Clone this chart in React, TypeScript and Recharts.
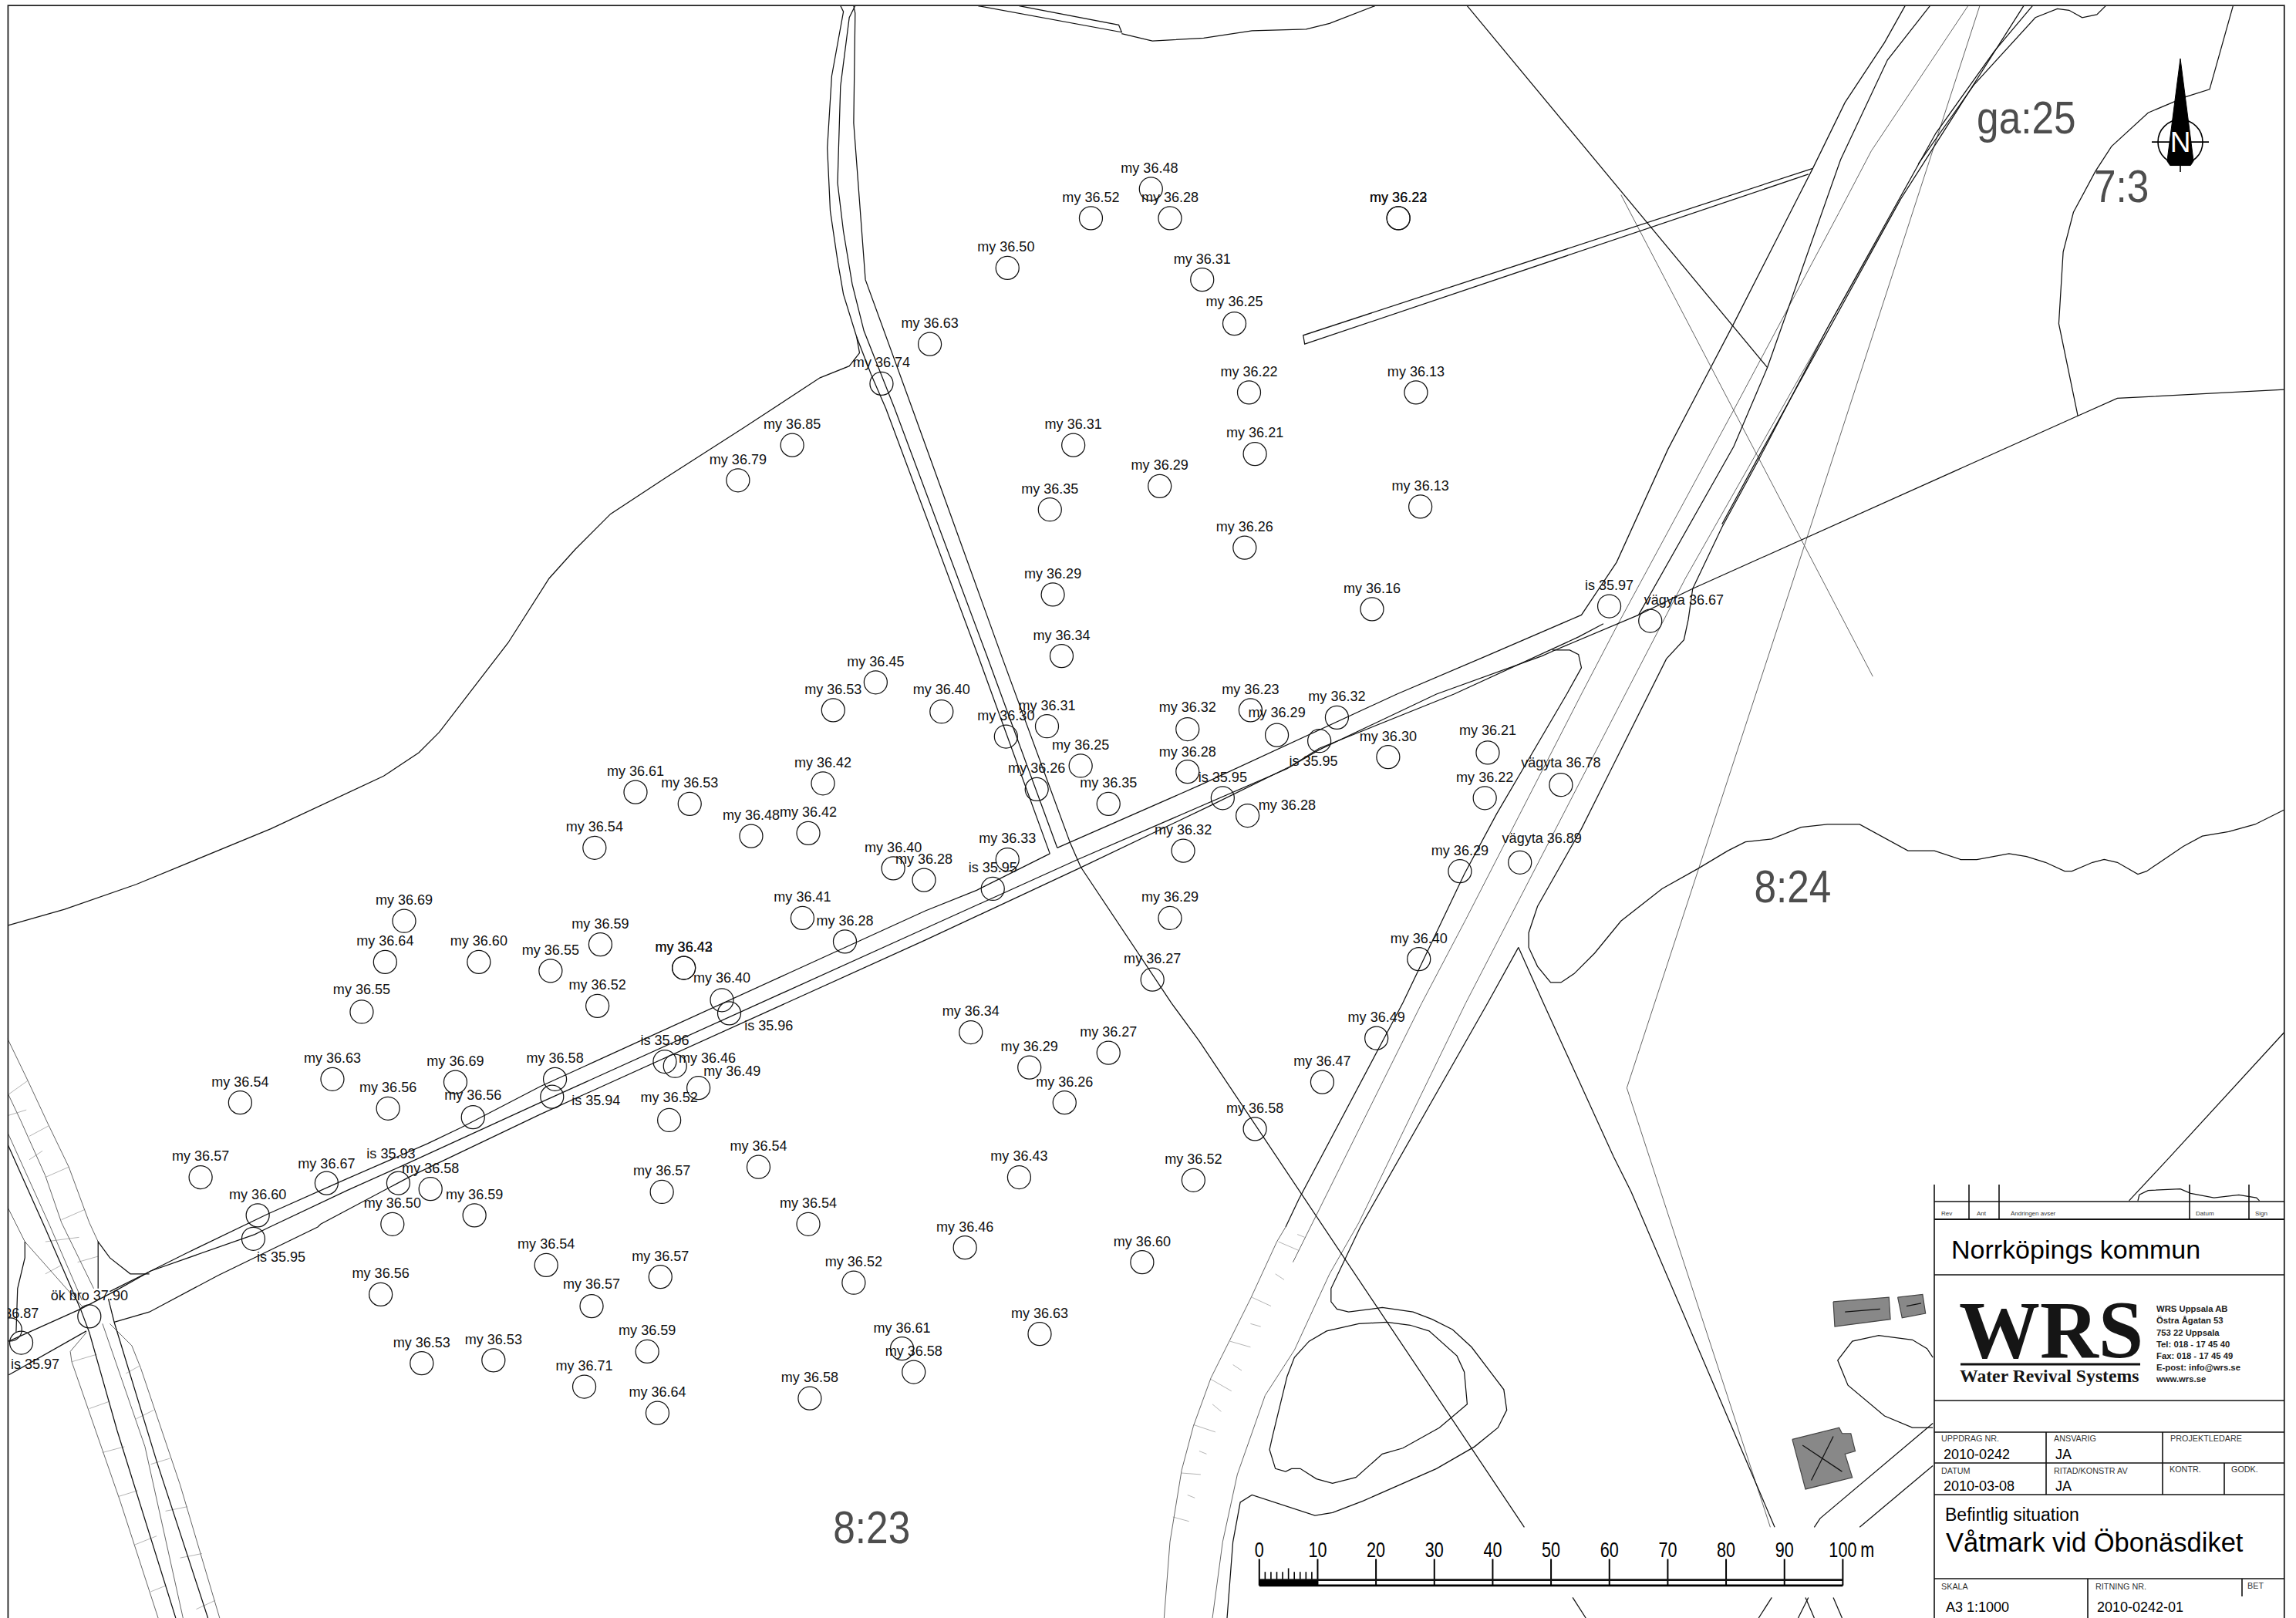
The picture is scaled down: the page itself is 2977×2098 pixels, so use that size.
import { ScatterChart, Scatter, XAxis, YAxis } from "recharts";

const WIDTH = 2977;
const HEIGHT = 2098;
const MAP_W = 1568;
const MAP_H = 1105;
const PX = WIDTH / MAP_W;
const SANS = "'Liberation Sans', Arial, sans-serif";
const SERIF = "'Liberation Serif', serif";

type Pt = [number, number];

// survey points: x, y, label, label x, label y (map units)
const SURVEY: [number, number, string, number, number][] = [
  [786, 129, "my 36.48", 785, 115], [799, 149, "my 36.28", 799, 135], [745, 149, "my 36.52", 745, 135],
  [955, 149, "my 36.22", 955, 135], [955, 149, "my 36.23", 955, 135], [688, 183, "my 36.50", 687, 169],
  [821, 191, "my 36.31", 821, 177], [843, 221, "my 36.25", 843, 206], [635, 235, "my 36.63", 635, 221],
  [853, 268, "my 36.22", 853, 254], [967, 268, "my 36.13", 967, 254], [602, 262, "my 36.74", 602, 248],
  [541, 304, "my 36.85", 541, 290], [504, 328, "my 36.79", 504, 314], [733, 304, "my 36.31", 733, 290],
  [857, 310, "my 36.21", 857, 296], [792, 332, "my 36.29", 792, 318], [717, 348, "my 36.35", 717, 334],
  [970, 346, "my 36.13", 970, 332], [850, 374, "my 36.26", 850, 360], [719, 406, "my 36.29", 719, 392],
  [937, 416, "my 36.16", 937, 402], [1099, 414, "is 35.97", 1099, 400], [1127, 424, "vägyta 36.67", 1150, 410],
  [725, 448, "my 36.34", 725, 434], [598, 466, "my 36.45", 598, 452], [569, 485, "my 36.53", 569, 471],
  [643, 486, "my 36.40", 643, 471], [715, 496, "my 36.31", 715, 482], [687, 503, "my 36.30", 687, 489],
  [811, 498, "my 36.32", 811, 483], [854, 485, "my 36.23", 854, 471], [872, 502, "my 36.29", 872, 487],
  [913, 490, "my 36.32", 913, 476], [901, 506, "is 35.95", 897, 520], [948, 517, "my 36.30", 948, 503],
  [1016, 514, "my 36.21", 1016, 499], [1014, 545, "my 36.22", 1014, 531], [1066, 536, "vägyta 36.78", 1066, 521],
  [738, 523, "my 36.25", 738, 509], [811, 527, "my 36.28", 811, 514], [708, 539, "my 36.26", 708, 525],
  [757, 549, "my 36.35", 757, 535], [835, 545, "is 35.95", 835, 531], [852, 557, "my 36.28", 879, 550],
  [562, 535, "my 36.42", 562, 521], [434, 541, "my 36.61", 434, 527], [471, 549, "my 36.53", 471, 535],
  [513, 571, "my 36.48", 513, 557], [552, 569, "my 36.42", 552, 555], [406, 579, "my 36.54", 406, 565],
  [688, 587, "my 36.33", 688, 573], [808, 581, "my 36.32", 808, 567], [610, 593, "my 36.40", 610, 579],
  [631, 601, "my 36.28", 631, 587], [678, 607, "is 35.95", 678, 593], [997, 595, "my 36.29", 997, 581],
  [1038, 589, "vägyta 36.89", 1053, 573], [799, 627, "my 36.29", 799, 613], [548, 627, "my 36.41", 548, 613],
  [577, 643, "my 36.28", 577, 629], [276, 629, "my 36.69", 276, 615], [410, 645, "my 36.59", 410, 631],
  [263, 657, "my 36.64", 263, 643], [327, 657, "my 36.60", 327, 643], [376, 663, "my 36.55", 376, 649],
  [467, 661, "my 36.42", 467, 647], [467, 661, "my 36.43", 467, 647], [969, 655, "my 36.40", 969, 641],
  [787, 669, "my 36.27", 787, 655], [493, 683, "my 36.40", 493, 668], [408, 687, "my 36.52", 408, 673],
  [247, 691, "my 36.55", 247, 676], [498, 692, "is 35.96", 525, 701], [663, 705, "my 36.34", 663, 691],
  [940, 709, "my 36.49", 940, 695], [757, 719, "my 36.27", 757, 705], [454, 725, "is 35.96", 454, 711],
  [703, 729, "my 36.29", 703, 715], [461, 728, "my 36.46", 483, 723], [227, 737, "my 36.63", 227, 723],
  [311, 739, "my 36.69", 311, 725], [379, 737, "my 36.58", 379, 723], [903, 739, "my 36.47", 903, 725],
  [477, 743, "my 36.49", 500, 732], [164, 753, "my 36.54", 164, 739], [727, 753, "my 36.26", 727, 739],
  [265, 757, "my 36.56", 265, 743], [323, 763, "my 36.56", 323, 748], [377, 749, "is 35.94", 407, 752],
  [457, 765, "my 36.52", 457, 750], [857, 771, "my 36.58", 857, 757], [518, 797, "my 36.54", 518, 783],
  [137, 804, "my 36.57", 137, 790], [223, 808, "my 36.67", 223, 795], [272, 808, "is 35.93", 267, 788],
  [452, 814, "my 36.57", 452, 800], [696, 804, "my 36.43", 696, 790], [815, 806, "my 36.52", 815, 792],
  [176, 830, "my 36.60", 176, 816], [294, 812, "my 36.58", 294, 798], [324, 830, "my 36.59", 324, 816],
  [268, 836, "my 36.50", 268, 822], [552, 836, "my 36.54", 552, 822], [659, 852, "my 36.46", 659, 838],
  [173, 846, "is 35.95", 192, 859], [373, 864, "my 36.54", 373, 850], [780, 862, "my 36.60", 780, 848],
  [451, 872, "my 36.57", 451, 858], [583, 876, "my 36.52", 583, 862], [260, 884, "my 36.56", 260, 870],
  [404, 892, "my 36.57", 404, 877], [61, 899, "ök bro 37.90", 61, 885], [7, 908, "my 36.87", 7, 897],
  [14.5, 917, "is 35.97", 24, 932], [710, 911, "my 36.63", 710, 897], [442, 923, "my 36.59", 442, 909],
  [616, 921, "my 36.61", 616, 907], [624, 937, "my 36.58", 624, 923], [288, 931, "my 36.53", 288, 917],
  [337, 929, "my 36.53", 337, 915], [399, 947, "my 36.71", 399, 933], [553, 955, "my 36.58", 553, 941],
  [449, 965, "my 36.64", 449, 951],
];

const PARCELS: [string, number, number][] = [
  ["ga:25", 1350, 91], ["7:3", 1430, 138], ["8:24", 1198, 616], ["8:23", 569, 1054],
];

// black map lines
const BOUNDARY_NW: Pt[] = [[5.6, 632], [44, 621], [93, 604], [185, 566], [262, 530], [286, 514], [300, 500], [347, 439], [375, 395], [393, 375], [417, 351], [455, 326], [508, 292], [560, 258], [580, 250], [587, 241], [585, 230]];
const DITCH_LEFT: Pt[] = [[574, 4], [576, 8], [568, 52], [565, 101], [567, 144], [572, 178], [576, 201], [585, 230], [595, 256], [605, 279], [668, 448], [717, 583]];
const DITCH_MID: Pt[] = [[584, 4], [580, 12], [574, 59], [572, 125], [576, 158], [582, 194], [590, 226], [611, 279], [674, 448], [722, 579]];
const DITCH_RIGHT: Pt[] = [[583, 4], [584, 9], [583, 84], [591, 191], [623, 279], [684, 448], [731, 576], [738, 592], [800, 685], [819, 711], [1041, 1043]];
const ROAD_UPPER_W: Pt[] = [[75, 882], [103, 868], [127, 856], [183, 829], [237, 805], [292, 781], [315, 770], [369, 742], [632, 622], [667, 608], [717, 583]];
const ROAD_UPPER_E: Pt[] = [[722, 579], [820, 536], [954, 474], [1015, 448], [1080, 420], [1104, 384], [1139, 307], [1184, 221], [1238, 115], [1260, 70], [1287, 29], [1301, 4]];
const ROAD_MAIN: Pt[] = [[6, 916], [55, 894], [78, 882], [103, 868], [174, 843], [182, 839], [237, 813], [275, 796], [369, 753], [632, 634], [736, 587], [879, 525], [901, 512], [981, 474], [1053, 448], [1062, 444], [1119, 420]];
const ROAD_MAIN_2: Pt[] = [[901, 511], [993, 474], [1078, 435], [1095, 426]];
const ROAD_LOWER: Pt[] = [[6, 939], [59, 909]];
const ROAD_LOWER_2: Pt[] = [[78, 903], [102, 896], [149, 871], [217, 838], [219, 836], [281, 803], [369, 761], [632, 642], [737, 593], [825, 551], [882, 523], [901, 511]];
const PROPERTY_E: Pt[] = [[1560, 266], [1446, 272], [1419, 284], [1156, 402], [1119, 420], [1184, 305], [1207, 251], [1257, 109], [1289, 41], [1318, 4]];
const DIAGONAL: Pt[] = [[1002, 4], [1207, 251]];
const STRIP_E: Pt[] = [[1238, 115], [890, 229], [891, 235], [1235, 119]];
const TOP_STRIP: Pt[] = [[668, 4], [766, 22], [764, 17], [696, 4]];
const TOP_SHORE: Pt[] = [[766, 23], [787, 28], [822, 26], [855, 21], [892, 20], [908, 16], [939, 4]];
const ROAD_EAST_F: Pt[] = [[1156, 402], [1176, 360], [1201, 314], [1248, 224], [1282, 163], [1322, 91], [1362, 35], [1388, 4]];
const ROAD_EAST_F2: Pt[] = [[1176, 358], [1202, 310], [1298, 136], [1382, 4]];
const ROAD_EAST_G: Pt[] = [[1310, 112], [1348, 58], [1390, 12], [1405, 6], [1413, 7], [1422, 12], [1432, 10], [1438, 4]];
const PROPERTY_NE: Pt[] = [[1525, 4], [1509, 61], [1493, 66], [1467, 77], [1442, 100], [1431, 117], [1416, 145], [1409, 172], [1406, 221], [1419, 284]];
const ROAD_WEST_A: Pt[] = [[1060, 444], [1072, 444], [1078, 447], [1080, 456], [1070, 474], [1022, 556], [1000, 597], [958, 685], [887, 819], [878, 838]];
const ROAD_EAST_D: Pt[] = [[1156, 402], [1153, 423], [1150, 437], [1138, 450], [1080, 566], [1050, 619], [1044, 637], [1044, 647], [1050, 660], [1059, 671], [1066, 671], [1075, 665], [1089, 651], [1107, 629], [1135, 607], [1160, 593], [1180, 581], [1192, 575], [1210, 573], [1230, 565], [1248, 563], [1270, 563], [1303, 581], [1321, 581], [1339, 587], [1350, 587], [1372, 583], [1384, 585], [1397, 589], [1410, 595], [1415, 595], [1429, 589], [1437, 587], [1446, 589], [1460, 597], [1466, 595], [1491, 578], [1504, 571], [1522, 568], [1540, 563], [1560, 553]];
const LOWER_ROAD_J: Pt[] = [[1037, 647], [1016, 685], [929, 838], [909, 880], [909, 889], [913, 894], [921, 896], [944, 893], [965, 896], [978, 901], [992, 908], [1005, 920], [1027, 949], [1029, 963], [1023, 975], [1007, 988], [981, 1003], [931, 1025], [910, 1033], [898, 1035], [855, 1021], [847, 1026], [842, 1053], [838, 1105]];
const LOWER_ROAD_K: Pt[] = [[1037, 647], [1054, 685], [1102, 790], [1114, 814], [1212, 1043]];
const ISLAND: Pt[] = [[947, 903], [928, 904], [906, 909], [894, 916], [884, 927], [879, 940], [869, 981], [867, 990], [871, 1003], [878, 1005], [882, 1003], [888, 1003], [899, 1010], [910, 1013], [926, 1009], [944, 993], [958, 989], [983, 975], [1002, 959], [1000, 937], [995, 926], [976, 909], [963, 905], [947, 903]];
const POND: Pt[] = [[1320, 927], [1316, 921], [1306, 915], [1283, 912], [1265, 916], [1255, 929], [1262, 946], [1287, 967], [1306, 975], [1320, 975]];
const SE_ROAD_1: Pt[] = [[1320, 972], [1243, 1037], [1239, 1043]];
const SE_ROAD_2: Pt[] = [[1320, 1001], [1270, 1043]];
const NE_CORNER: Pt[] = [[1454, 820], [1482, 790], [1560, 705]];
const SHORE_SMALL: Pt[] = [[1460, 820], [1461, 816], [1467, 813], [1489, 812], [1496, 815], [1512, 818], [1529, 816], [1541, 818], [1543, 820]];
const STUB_1: Pt[] = [[1074, 1091], [1083, 1105]];
const STUB_2: Pt[] = [[1210, 1091], [1201, 1105]];
const STUB_3: Pt[] = [[1235, 1091], [1228, 1105]];
const STUB_4: Pt[] = [[1233, 1091], [1239, 1105]];
const STUB_5: Pt[] = [[1252, 1091], [1258, 1105]];
const CROSS_BLACK_3: Pt[] = [[5, 781], [31, 839], [55, 894], [61, 910], [80, 977], [120, 1105]];
const CROSS_BLACK_R: Pt[] = [[74, 887], [78, 903], [107, 998], [142, 1105]];
const CROSS_BRANCH: Pt[] = [[67, 880], [67, 848], [75, 859], [89, 870], [102, 870]];
const CROSS_SMALL: Pt[] = [[17, 848], [17, 859], [12, 880], [11, 910]];
const INNER_BUILD_1: Pt[] = [[1260, 896], [1284, 894]];
const INNER_BUILD_2: Pt[] = [[1302, 892], [1312, 890]];
const INNER_X_1: Pt[] = [[1231, 987], [1258, 1005]];
const INNER_X_2: Pt[] = [[1252, 981], [1237, 1011]];
const BLACK_LINES = [
  BOUNDARY_NW, DITCH_LEFT, DITCH_MID, DITCH_RIGHT, ROAD_UPPER_W, ROAD_UPPER_E, ROAD_MAIN, ROAD_MAIN_2, ROAD_LOWER, ROAD_LOWER_2,
  PROPERTY_E, DIAGONAL, STRIP_E, TOP_STRIP, TOP_SHORE, ROAD_EAST_F, ROAD_EAST_F2, ROAD_EAST_G, PROPERTY_NE, ROAD_WEST_A, ROAD_EAST_D,
  LOWER_ROAD_J, LOWER_ROAD_K, ISLAND, POND, SE_ROAD_1, SE_ROAD_2, NE_CORNER, SHORE_SMALL, STUB_1, STUB_2, STUB_3, STUB_4, STUB_5,
  CROSS_BLACK_3, CROSS_BLACK_R, CROSS_BRANCH, CROSS_SMALL,
];

// gray map lines
const GRAY_1: Pt[] = [[1107, 133], [1279, 462]];
const GRAY_2: Pt[] = [[1352, 4], [1225, 395], [1111, 743], [1209, 1043]];
const GRAY_3: Pt[] = [[1344, 4], [1278, 103], [1256, 145], [1184, 280], [1104, 428], [1080, 474], [1001, 628], [971, 685], [883, 862]];
const GRAY_4: Pt[] = [[1298, 136], [1151, 395], [1110, 474], [1001, 685], [928, 835], [908, 870], [884, 922], [864, 953], [845, 1007], [835, 1053], [828, 1105]];
const GRAY_5: Pt[] = [[878, 838], [872, 848], [854, 887], [827, 941], [815, 974], [807, 1004], [799, 1053], [795, 1105]];
const CROSS_G1: Pt[] = [[5, 709], [19, 738], [33, 768], [47, 797], [61, 835], [67, 848]];
const CROSS_G2: Pt[] = [[5, 746], [14, 765], [31, 803], [42, 835], [64, 880]];
const CROSS_G3: Pt[] = [[5, 773], [34, 837], [56, 888]];
const CROSS_G4: Pt[] = [[5, 824], [17, 848], [56, 892]];
const CROSS_G5: Pt[] = [[70, 904], [99, 988], [125, 1105]];
const CROSS_G6: Pt[] = [[75, 904], [90, 919], [96, 934], [123, 1014], [150, 1105]];
const CROSS_G7: Pt[] = [[59, 910], [48, 923], [49, 930], [82, 1025], [108, 1105]];
const GRAY_LINES = [GRAY_1, GRAY_2, GRAY_3, GRAY_4, GRAY_5, CROSS_G1, CROSS_G2, CROSS_G3, CROSS_G4, CROSS_G5, CROSS_G6, CROSS_G7];

// short bank hatching
const BANK_TICKS: [number, number, number, number][] = [
  [5, 748, 19, 738], [5, 762, 18, 758], [20, 776, 33, 769], [20, 792, 29, 786], [31, 804, 47, 797], [42, 833, 58, 826],
  [31, 848, 54, 845], [31, 870, 42, 864], [53, 862, 67, 858], [49, 930, 66, 925], [61, 962, 75, 957], [70, 992, 85, 988],
  [81, 1022, 94, 1018], [92, 1055, 107, 1049], [103, 1087, 113, 1083], [86, 938, 95, 933], [93, 969, 105, 963], [103, 1000, 116, 996],
  [113, 1032, 128, 1029], [123, 1064, 138, 1061], [134, 1099, 147, 1093], [886, 843, 891, 845], [873, 848, 887, 854], [871, 870, 877, 874],
  [855, 886, 868, 892], [854, 904, 861, 906], [840, 916, 854, 920], [842, 932, 848, 936], [827, 942, 841, 950], [828, 959, 834, 964],
  [815, 973, 830, 978], [819, 991, 824, 993], [807, 1006, 820, 1007], [811, 1021, 816, 1023], [801, 1036, 812, 1039],
];

const BUILDINGS: Pt[][] = [
  [[1252, 889], [1290, 886], [1291, 901], [1253, 906], [1252, 889]],
  [[1296, 886], [1313, 884], [1315, 897], [1299, 900], [1296, 886]],
  [[1224, 983], [1256, 975], [1258, 979], [1264, 979], [1267, 991], [1260, 993], [1265, 1009], [1233, 1017], [1224, 983]],
];

const FRAME: Pt[] = [[5.5, 1105], [5.5, 3.7], [1560, 3.7], [1560, 1105]];

// title block, in page pixels
const BLOCK_LINES: [number, number, number, number, number][] = [
  [2508, 1536, 2508, 2098, 1.6], [2553, 1536, 2553, 1581, 1.6], [2592, 1536, 2592, 1581, 1.6], [2839, 1536, 2839, 1581, 1.6],
  [2916, 1536, 2916, 1581, 1.6], [2508, 1558, 2962, 1558, 1.6], [2508, 1581, 2962, 1581, 2], [2508, 1653, 2962, 1653, 1.6],
  [2508, 1816, 2962, 1816, 1.6], [2508, 1857, 2962, 1857, 1.6], [2508, 1897, 2962, 1897, 1.6], [2508, 1938, 2962, 1938, 1.6],
  [2508, 2047, 2962, 2047, 1.6], [2653, 1857, 2653, 1938, 1.6], [2804, 1857, 2804, 1938, 1.6], [2884, 1897, 2884, 1938, 1.6],
  [2707, 2047, 2707, 2098, 1.6], [2907, 2047, 2907, 2070, 1.6], [2542, 1769, 2775, 1769, 3],
];
const BLOCK_TEXT: { x: number; y: number; text: string; size: number; bold?: boolean; serif?: boolean; fill?: string }[] = [
  { x: 2517, y: 1576, text: "Rev", size: 8, fill: "#333" }, { x: 2563, y: 1576, text: "Ant", size: 8, fill: "#333" },
  { x: 2607, y: 1576, text: "Ändringen avser", size: 8, fill: "#333" }, { x: 2847, y: 1576, text: "Datum", size: 8, fill: "#333" },
  { x: 2924, y: 1576, text: "Sign", size: 8, fill: "#333" },
  { x: 2530, y: 1632, text: "Norrköpings kommun", size: 34 },
  { x: 2540, y: 1760, text: "WRS", size: 105, bold: true, serif: true, fill: "#151515" },
  { x: 2541, y: 1792, text: "Water Revival Systems", size: 23.7, bold: true, serif: true, fill: "#151515" },
  { x: 2796, y: 1701, text: "WRS Uppsala AB", size: 11.3, bold: true, fill: "#222" }, { x: 2796, y: 1716, text: "Östra Ågatan 53", size: 11.3, bold: true, fill: "#222" },
  { x: 2796, y: 1731.5, text: "753 22 Uppsala", size: 11.3, bold: true, fill: "#222" }, { x: 2796, y: 1747, text: "Tel: 018 - 17 45 40", size: 11.3, bold: true, fill: "#222" },
  { x: 2796, y: 1762, text: "Fax: 018 - 17 45 49", size: 11.3, bold: true, fill: "#222" }, { x: 2796, y: 1777, text: "E-post: info@wrs.se", size: 11.3, bold: true, fill: "#222" },
  { x: 2796, y: 1792, text: "www.wrs.se", size: 11.3, bold: true, fill: "#222" },
  { x: 2517, y: 1869, text: "UPPDRAG NR.", size: 10.8, fill: "#333" }, { x: 2663, y: 1869, text: "ANSVARIG", size: 10.8, fill: "#333" },
  { x: 2814, y: 1869, text: "PROJEKTLEDARE", size: 10.8, fill: "#333" }, { x: 2520, y: 1892, text: "2010-0242", size: 18 }, { x: 2665, y: 1892, text: "JA", size: 18 },
  { x: 2517, y: 1911, text: "DATUM", size: 10.8, fill: "#333" }, { x: 2663, y: 1911, text: "RITAD/KONSTR AV", size: 10.8, fill: "#333" },
  { x: 2813, y: 1909, text: "KONTR.", size: 10.8, fill: "#333" }, { x: 2893, y: 1909, text: "GODK.", size: 10.8, fill: "#333" },
  { x: 2520, y: 1933, text: "2010-03-08", size: 18 }, { x: 2665, y: 1933, text: "JA", size: 18 },
  { x: 2522, y: 1972, text: "Befintlig situation", size: 23 }, { x: 2523, y: 2012, text: "Våtmark vid Öbonäsdiket", size: 34.5 },
  { x: 2517, y: 2061, text: "SKALA", size: 10.8, fill: "#333" }, { x: 2717, y: 2061, text: "RITNING NR.", size: 10.8, fill: "#333" },
  { x: 2914, y: 2060, text: "BET", size: 10.8, fill: "#333" }, { x: 2523, y: 2090, text: "A3 1:1000", size: 18 }, { x: 2719, y: 2090, text: "2010-0242-01", size: 18 },
];

// scale bar
const SCALE_MAJOR = [0, 10, 20, 30, 40, 50, 60, 70, 80, 90, 100];
const SCALE_MINOR = [1, 2, 3, 4, 5, 6, 7, 8, 9];
const scaleX = (m: number) => 860 + m * 3.985;

// north arrow
const NORTH_ARROW: Pt[] = [[1489, 40], [1498, 110], [1496, 113], [1482, 113], [1480, 110], [1489, 40]];
const NORTH_H: Pt[] = [[1469.5, 97], [1508.5, 97]];
const NORTH_V: Pt[] = [[1489, 113], [1489, 117.5]];

const pts = (line: Pt[]) => line.map(([x, y]) => ({ x, y }));
const Nothing = () => <g />;

function polyline(key: string, line: Pt[], stroke = "#111", strokeWidth = 1.25, fill = "none") {
  return (
    <Scatter key={key} data={pts(line)} line={{ stroke, strokeWidth, fill }} shape={Nothing} isAnimationActive={false} />
  );
}

const SurveyCircle = (p: any) => <circle cx={p.cx} cy={p.cy} r={15} fill="none" stroke="#111" strokeWidth={1.25} />;

const SurveyLabel = (p: any) => (
  <text transform={`translate(${p.cx},${p.cy + 5.5}) scale(0.95,1)`} textAnchor="middle" fontFamily={SANS} fontSize={19} fill="#111">
    {p.payload.text}
  </text>
);

const ParcelLabel = (p: any) => (
  <text transform={`translate(${p.cx},${p.cy}) scale(0.87,1)`} fontFamily={SANS} fontSize={59} fill="#4d4d4d">
    {p.payload.text}
  </text>
);

const BlockLabel = (p: any) => {
  const t = p.payload;
  return (
    <text x={p.cx} y={p.cy} fontFamily={t.serif ? SERIF : SANS} fontSize={t.size} fontWeight={t.bold ? 700 : 400} fill={t.fill ?? "#000"}>
      {t.text}
    </text>
  );
};

const ScaleLabel = (p: any) => (
  <text transform={`translate(${p.cx},${p.cy}) scale(0.8,1)`} textAnchor={p.payload.text === "m" ? "start" : "middle"} fontFamily={SANS} fontSize={27} fill="#000">
    {p.payload.text}
  </text>
);

const NorthCircle = (p: any) => <circle cx={p.cx} cy={p.cy} r={29} fill="none" stroke="#000" strokeWidth={1.6} />;
const NorthLetter = (p: any) => (
  <text x={p.cx} y={p.cy} textAnchor="middle" fontFamily={SANS} fontSize={37} fill="#fff">N</text>
);

export default function App() {
  const circles = SURVEY.map(([x, y]) => ({ x, y }));
  const labels = SURVEY.map(([, , text, x, y]) => ({ x, y, text }));
  const parcels = PARCELS.map(([text, x, y]) => ({ text, x, y }));
  const blockText = BLOCK_TEXT.map((t) => ({ ...t, x: t.x / PX, y: t.y / PX }));
  const scaleLabels = [
    ...SCALE_MAJOR.map((m) => ({ x: scaleX(m), y: 1063.5, text: String(m) })),
    { x: 1270.5, y: 1063.5, text: "m" },
  ];

  return (
    <div style={{ position: "absolute", left: 0, top: 0, width: WIDTH, height: HEIGHT, background: "#fff" }}>
      <ScatterChart width={WIDTH} height={HEIGHT} margin={{ top: 0, right: 0, bottom: 0, left: 0 }}>
        <XAxis type="number" dataKey="x" domain={[0, MAP_W]} allowDataOverflow hide />
        <YAxis type="number" dataKey="y" domain={[0, MAP_H]} allowDataOverflow reversed hide />

        {BUILDINGS.map((b, i) => polyline(`b${i}`, b, "#444", 1.2, "#888"))}
        {polyline("ib1", INNER_BUILD_1)}
        {polyline("ib2", INNER_BUILD_2)}
        {polyline("ix1", INNER_X_1)}
        {polyline("ix2", INNER_X_2)}
        {BANK_TICKS.map(([a, b, c, d], i) => polyline(`t${i}`, [[a, b], [c, d]], "#b5b5b5", 1))}
        {GRAY_LINES.map((l, i) => polyline(`g${i}`, l, "#666", 1))}
        {BLACK_LINES.map((l, i) => polyline(`k${i}`, l))}

        <Scatter data={circles} shape={SurveyCircle} isAnimationActive={false} />
        <Scatter data={labels} shape={SurveyLabel} isAnimationActive={false} />
        <Scatter data={parcels} shape={ParcelLabel} isAnimationActive={false} />

        {polyline("mask", [[2.6, 0], [2.6, MAP_H]], "#fff", 10)}
        {polyline("frame", FRAME, "#222", 1.8)}

        {BLOCK_LINES.map(([a, b, c, d, w], i) => polyline(`bl${i}`, [[a / PX, b / PX], [c / PX, d / PX]], "#111", w))}
        <Scatter data={blockText} shape={BlockLabel} isAnimationActive={false} />

        {SCALE_MAJOR.map((m) => polyline(`sM${m}`, [[scaleX(m), 1064.7], [scaleX(m), 1082.8]], "#000", 2))}
        {SCALE_MINOR.map((m) => polyline(`sm${m}`, [[scaleX(m), m === 5 ? 1071 : 1073.5], [scaleX(m), 1080]], "#000", 1.6))}
        {polyline("sTop", [[860, 1079], [1258.5, 1079]], "#111", 2.6)}
        {polyline("sBot", [[860, 1082.8], [1258.5, 1082.8]], "#000", 2.6)}
        {polyline("sFill", [[860, 1081], [900, 1081]], "#000", 7)}
        <Scatter data={scaleLabels} shape={ScaleLabel} isAnimationActive={false} />

        <Scatter data={[{ x: 1489, y: 97 }]} shape={NorthCircle} isAnimationActive={false} />
        {polyline("nh", NORTH_H, "#000", 1.6)}
        {polyline("nv", NORTH_V, "#000", 1.6)}
        {polyline("na", NORTH_ARROW, "#000", 1, "#000")}
        <Scatter data={[{ x: 1489, y: 103.5 }]} shape={NorthLetter} isAnimationActive={false} />
      </ScatterChart>
    </div>
  );
}
